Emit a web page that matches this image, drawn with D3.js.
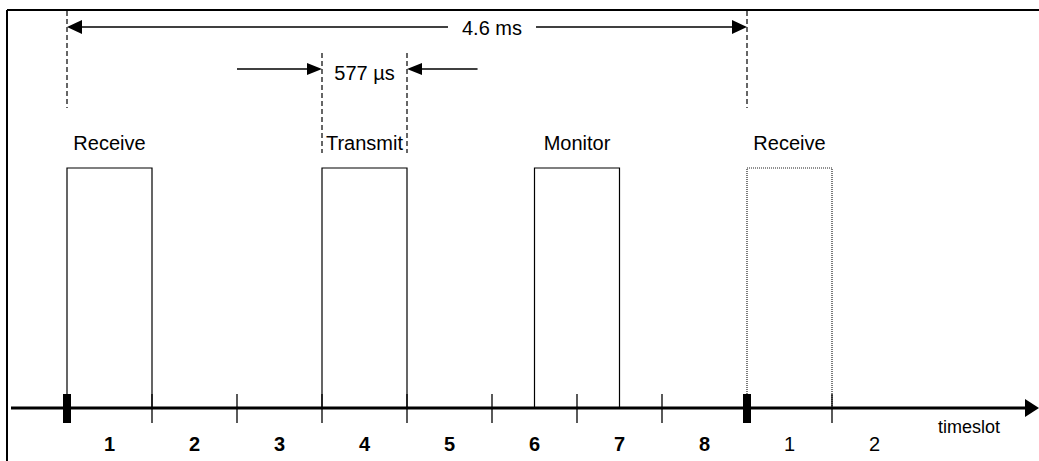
<!DOCTYPE html>
<html>
<head>
<meta charset="utf-8">
<script src="https://cdn.jsdelivr.net/npm/d3@7"></script>
<style>
  body { margin: 0; background: #fff; }
  svg text { font-family: "Liberation Sans", Arial, sans-serif; fill: #000; }
</style>
</head>
<body>
<div id="chart"></div>
<script>
// timeslot labels under the axis (first frame bold, next frame plain)
var slotLabels = ["1", "2", "3", "4", "5", "6", "7", "8", "1", "2"];
var slotBold = [true, true, true, true, true, true, true, true, false, false];

// bursts: label, start slot, level, is it the next frame
var burstLabels = ["Receive", "Transmit", "Monitor", "Receive"];
var burstStart = [0, 3, 5.5, 8];
var burstLevel = [1, 1, 1, 1];
var burstNextFrame = [false, false, false, true];

// slot boundaries and frame marks
var tickSlots = [1, 2, 3, 4, 5, 6, 7, 9];
var frameMarks = [0, 8];

// dimension annotations
var frameText = "4.6 ms";
var frameSpan = [0, 8];
var frameTextAt = 5;
var slotText = "577 \u00b5s";
var slotSpan = [3, 4];
var slotArrowTails = [2, 4.83];
var axisText = "timeslot";

function timingDiagram(){
    var width = 1039, height = 461;

    var svg = d3.select("#chart")
        .append("svg")
        .attr("width", width)
        .attr("height", height);

    var x = d3.scaleLinear()
        .domain([0, 8])
        .range([67, 747]);

    var y = d3.scaleLinear()
        .domain([0, 1])
        .range([408, 168]);

    var axisY = y(0);

    // frame (left and top edges only, the rest is cropped)
    svg.append("line")
        .attr("x1", 7).attr("x2", 7)
        .attr("y1", 10).attr("y2", height)
        .attr("stroke", "#000").attr("stroke-width", 2);
    svg.append("line")
        .attr("x1", 7).attr("x2", width)
        .attr("y1", 10).attr("y2", 10)
        .attr("stroke", "#000").attr("stroke-width", 2);

    // bursts
    burstLabels.forEach(function(label, i){
        var x0 = x(burstStart[i]), x1 = x(burstStart[i] + 1);
        svg.append("path")
            .attr("d", "M" + x0 + "," + y(0) + "V" + y(burstLevel[i]) + "H" + x1 + "V" + y(0))
            .attr("fill", "none")
            .attr("stroke", burstNextFrame[i] ? "#222" : "#000")
            .attr("stroke-width", 1.2)
            .attr("stroke-dasharray", burstNextFrame[i] ? "1,1" : null);

        svg.append("text")
            .attr("x", (x0 + x1) / 2)
            .attr("y", 150)
            .attr("text-anchor", "middle")
            .attr("font-size", "20px")
            .text(label);
    });

    // time axis
    svg.append("line")
        .attr("x1", 11).attr("x2", width - 12)
        .attr("y1", axisY).attr("y2", axisY)
        .attr("stroke", "#000").attr("stroke-width", 3);
    svg.append("path")
        .attr("d", "M" + width + "," + axisY + "L" + (width - 14) + "," + (axisY - 9) + "L" + (width - 14) + "," + (axisY + 9) + "Z")
        .attr("fill", "#000");

    svg.selectAll(".tick")
        .data(tickSlots)
        .enter().append("line")
        .attr("class", "tick")
        .attr("x1", function(d){ return x(d); })
        .attr("x2", function(d){ return x(d); })
        .attr("y1", 394).attr("y2", 423)
        .attr("stroke", "#000").attr("stroke-width", 1.3);

    svg.selectAll(".mark")
        .data(frameMarks)
        .enter().append("rect")
        .attr("class", "mark")
        .attr("x", function(d){ return x(d) - 4; })
        .attr("y", 394)
        .attr("width", 8)
        .attr("height", 29)
        .attr("fill", "#000");

    svg.selectAll(".slotlabel")
        .data(slotLabels)
        .enter().append("text")
        .attr("class", "slotlabel")
        .attr("x", function(d, i){ return x(i + 0.5); })
        .attr("y", 451)
        .attr("text-anchor", "middle")
        .attr("font-size", "20px")
        .attr("font-weight", function(d, i){ return slotBold[i] ? "bold" : "normal"; })
        .text(function(d){ return d; });

    svg.append("text")
        .attr("x", 1000)
        .attr("y", 433)
        .attr("text-anchor", "end")
        .attr("font-size", "18px")
        .text(axisText);

    // helper: arrow head pointing to (tx, ty) in direction dir (+1 right, -1 left)
    function arrowHead(tx, ty, dir, len, half){
        svg.append("path")
            .attr("d", "M" + tx + "," + ty + "L" + (tx - dir * len) + "," + (ty - half) + "L" + (tx - dir * len) + "," + (ty + half) + "Z")
            .attr("fill", "#000");
    }

    function dashed(xp, y1, y2){
        svg.append("line")
            .attr("x1", xp).attr("x2", xp)
            .attr("y1", y1).attr("y2", y2)
            .attr("stroke", "#000")
            .attr("stroke-width", 1.2)
            .attr("stroke-dasharray", "5,3");
    }

    // frame length annotation
    var fy = 27;
    frameSpan.forEach(function(d){ dashed(x(d), 11, 108); });
    var fText = svg.append("text")
        .attr("x", x(frameTextAt))
        .attr("y", fy + 8)
        .attr("text-anchor", "middle")
        .attr("font-size", "20px")
        .text(frameText);
    var fw = fText.node().getComputedTextLength() / 2 + 14;
    svg.append("line")
        .attr("x1", x(frameSpan[0]) + 10).attr("x2", x(frameTextAt) - fw)
        .attr("y1", fy).attr("y2", fy)
        .attr("stroke", "#000").attr("stroke-width", 1.3);
    svg.append("line")
        .attr("x1", x(frameTextAt) + fw).attr("x2", x(frameSpan[1]) - 10)
        .attr("y1", fy).attr("y2", fy)
        .attr("stroke", "#000").attr("stroke-width", 1.3);
    arrowHead(x(frameSpan[0]), fy, -1, 15, 7);
    arrowHead(x(frameSpan[1]), fy, 1, 15, 7);

    // slot length annotation
    var sy = 69;
    slotSpan.forEach(function(d){ dashed(x(d), 53, 153); });
    svg.append("text")
        .attr("x", (x(slotSpan[0]) + x(slotSpan[1])) / 2)
        .attr("y", 80)
        .attr("text-anchor", "middle")
        .attr("font-size", "20px")
        .text(slotText);
    svg.append("line")
        .attr("x1", x(slotArrowTails[0])).attr("x2", x(slotSpan[0]) - 10)
        .attr("y1", sy).attr("y2", sy)
        .attr("stroke", "#000").attr("stroke-width", 1.3);
    svg.append("line")
        .attr("x1", x(slotSpan[1]) + 10).attr("x2", x(slotArrowTails[1]))
        .attr("y1", sy).attr("y2", sy)
        .attr("stroke", "#000").attr("stroke-width", 1.3);
    arrowHead(x(slotSpan[0]), sy, 1, 15, 6);
    arrowHead(x(slotSpan[1]), sy, -1, 15, 6);
}

timingDiagram();
</script>
</body>
</html>
